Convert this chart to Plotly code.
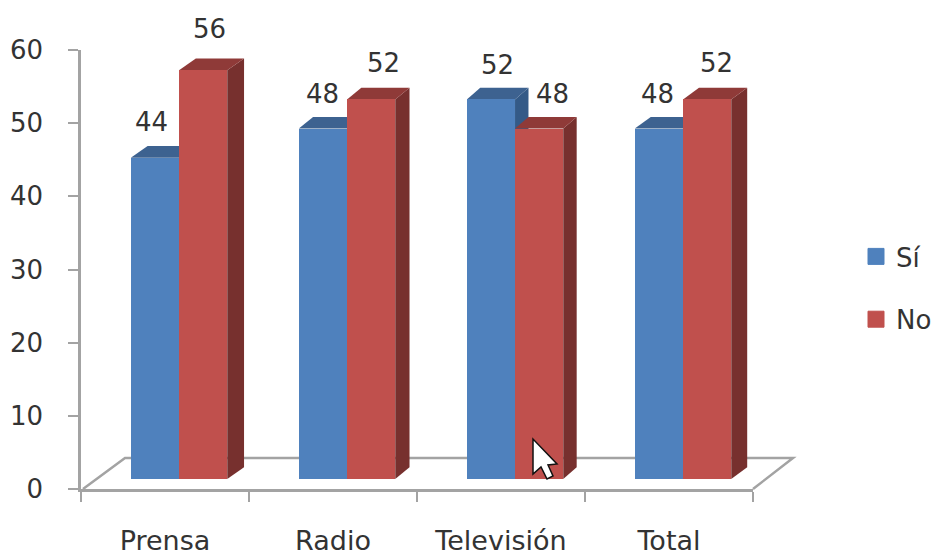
import plotly.graph_objects as go

categories = ["Prensa", "Radio", "Televisión", "Total"]
si_values = [44, 48, 52, 48]
no_values = [56, 52, 48, 52]
y_ticks = [0, 10, 20, 30, 40, 50, 60]

W, H = 938, 557
AX = "#a3a3a3"
TXT = "#333333"
FONT = "DejaVu Sans"
FS = 26
BLUE, BLUE_S, BLUE_T = "#4F81BD", "#345A87", "#3D6290"
RED, RED_S, RED_T = "#C0504D", "#77302E", "#8F3A38"

def px(x): return x / W
def py(y): return 1 - y / H

BAR_W = 0.287
SI_OFF, NO_OFF = 0.44, 0.727
DEPTH_X = [0.10, 0.085, 0.08, 0.095]   # in category units
DEPTH_Y = 1.6                          # in value units

fig = go.Figure()
xs = list(range(len(categories)))
fig.add_bar(x=[i + SI_OFF for i in xs], y=si_values, width=BAR_W, xaxis="x", yaxis="y2",
            marker=dict(color=BLUE, line_width=0), showlegend=False, name="Sí")
fig.add_bar(x=[i + NO_OFF for i in xs], y=no_values, width=BAR_W, xaxis="x", yaxis="y2",
            marker=dict(color=RED, line_width=0), showlegend=False, name="No")
for nm, col, g in (("Sí", BLUE, "a"), ("No", RED, "b")):
    fig.add_scatter(x=[None], y=[None], mode="markers", name=nm, legendgroup=g,
                    marker=dict(symbol="square", size=16, color=col, line=dict(color=col, width=1)))

shapes = []
floor = f"M{px(83)},{py(489)} L{px(125)},{py(458)} L{px(793)},{py(458)} L{px(753)},{py(489)}"
shapes.append(dict(type="path", path=floor, xref="paper", yref="paper", layer="below",
                   line=dict(color=AX, width=2.5), fillcolor="rgba(0,0,0,0)"))

def faces(x0, v, dx, side, top):
    x1 = x0 + BAR_W
    s = (f"M{x1},0 L{x1 + dx},{DEPTH_Y} L{x1 + dx},{v + DEPTH_Y} L{x1},{v} Z")
    t = (f"M{x0},{v} L{x0 + dx},{v + DEPTH_Y} L{x1 + dx},{v + DEPTH_Y} L{x1},{v} Z")
    out = []
    for p, c in ((s, side), (t, top)):
        out.append(dict(type="path", path=p, xref="x", yref="y2", layer="below",
                        line_width=0, fillcolor=c))
    return out

for i in xs:
    shapes += faces(i + SI_OFF - BAR_W / 2, si_values[i], DEPTH_X[i], BLUE_S, BLUE_T)
for i in xs:
    shapes += faces(i + NO_OFF - BAR_W / 2, no_values[i], DEPTH_X[i], RED_S, RED_T)

pts = [(533, 439), (533, 474), (541, 467), (547, 479), (553, 476), (548, 465), (557, 464)]
cursor = "M" + " L".join(f"{px(a)},{py(b)}" for a, b in pts) + " Z"
shapes.append(dict(type="path", path=cursor, xref="paper", yref="paper", layer="above",
                   line=dict(color="#111111", width=1.5), fillcolor="white"))

si_shift = [(-3, 36), (0, 35), (7, 34), (-1, 35)]
no_shift = [(6, 41), (12, 36), (13, 35), (9, 36)]
ann = []
for i in xs:
    for off, v, (dx, dy) in ((SI_OFF, si_values[i], si_shift[i]), (NO_OFF, no_values[i], no_shift[i])):
        ann.append(dict(x=i + off, y=v, xref="x", yref="y2", text=str(v), showarrow=False,
                        xshift=dx, yshift=dy, font=dict(family=FONT, size=FS, color=TXT)))

fig.update_layout(
    width=W, height=H, autosize=False,
    margin=dict(l=0, r=0, t=0, b=0, pad=0, autoexpand=False),
    paper_bgcolor="white", plot_bgcolor="rgba(0,0,0,0)",
    font=dict(family=FONT, size=FS, color=TXT),
    bargap=0, barmode="overlay",
    shapes=shapes, annotations=ann,
    xaxis=dict(domain=[px(81), px(753)], range=[0, 4], anchor="y", automargin=False,
               tickmode="array", tickvals=[i + 0.5 for i in xs], ticktext=categories,
               ticks="", ticklabelstandoff=26, showgrid=False, zeroline=False,
               showline=True, linecolor=AX, linewidth=2.5,
               minor=dict(tick0=0, dtick=1, ticks="outside", ticklen=10, tickwidth=2,
                          tickcolor=AX, showgrid=False),
               tickfont=dict(family=FONT, size=27, color=TXT)),
    yaxis=dict(domain=[py(489), py(50)], range=[0, 60], anchor="x", automargin=False,
               tickmode="array", tickvals=y_ticks, ticks="outside", ticklen=10, tickwidth=2,
               tickcolor=AX, showgrid=False, zeroline=False, showline=True, linecolor=AX,
               linewidth=2.5, ticklabelstandoff=20,
               tickfont=dict(family=FONT, size=FS, color=TXT)),
    yaxis2=dict(domain=[py(479), py(41)], range=[0, 60], anchor="x", visible=False),
    legend=dict(x=px(856), y=py(233), xanchor="left", yanchor="top", tracegroupgap=26,
                bgcolor="rgba(0,0,0,0)", font=dict(family=FONT, size=FS, color=TXT),
                itemclick=False, itemdoubleclick=False),
    hovermode=False,
)
fig.write_html("out.html", config={"displayModeBar": False},
               post_script="document.body.style.margin='0';document.body.style.overflow='hidden';")
